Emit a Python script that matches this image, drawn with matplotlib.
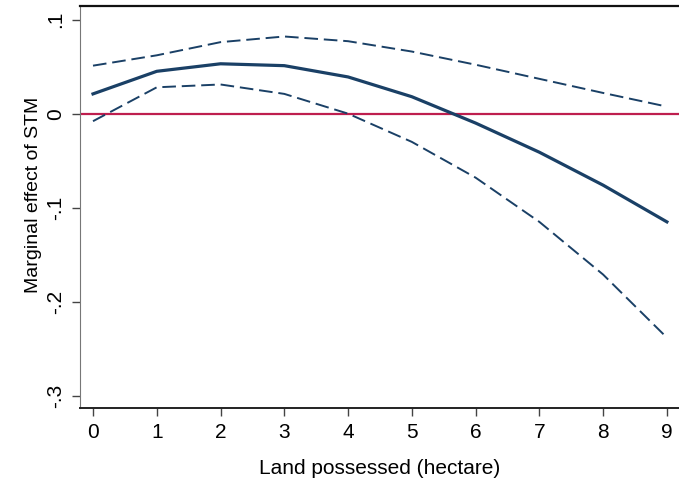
import matplotlib.pyplot as plt
import numpy as np

plt.rcParams['font.family'] = ['Liberation Sans', 'DejaVu Sans']

# land possessed (hectare)
land = [0, 1, 2, 3, 4, 5, 6, 7, 8, 9]
# marginal effect of STM and its confidence band
effect = [0.021, 0.045, 0.053, 0.051, 0.039, 0.018, -0.010, -0.041, -0.076, -0.115]
upper = [0.051, 0.062, 0.076, 0.082, 0.077, 0.066, 0.052, 0.037, 0.022, 0.0075]
lower = [-0.008, 0.028, 0.031, 0.021, 0.000, -0.030, -0.068, -0.115, -0.171, -0.238]

yticks = [0.1, 0, -0.1, -0.2, -0.3]
ylabels = ['.1', '0', '-.1', '-.2', '-.3']

navy = '#1a4066'

fig = plt.figure(figsize=(6.79, 4.86), dpi=100)
ax = fig.add_axes([80 / 679, 1 - 408 / 486, 1 - 80 / 679, 402 / 486])

ax.axhline(0, color='#be1e4e', lw=1.6, zorder=1)
ax.plot(land, upper, color=navy, lw=1.4, dashes=(7, 3))
ax.plot(land, lower, color=navy, lw=1.4, dashes=(7, 3))
ax.plot(land, effect, color=navy, lw=2.3)

ax.set_xlim(-0.204, 9.19)
ax.set_ylim(-0.3128, 0.1144)
ax.set_xticks(land)
ax.set_yticks(yticks)
ax.set_yticklabels(ylabels, rotation=90, va='center')
ax.tick_params(axis='both', labelsize=15, length=6, width=1, color='#444444')
ax.tick_params(axis='y', pad=5)
ax.tick_params(axis='x', pad=5)

ax.spines['right'].set_visible(False)
ax.spines['left'].set_color('#777777')
ax.spines['bottom'].set_color('#222222')
ax.spines['top'].set_color('#111111')
ax.spines['bottom'].set_linewidth(1.4)
ax.spines['top'].set_linewidth(1.6)

ax.set_xlabel('Land possessed (hectare)', fontsize=15, labelpad=12)
ax.set_ylabel('Marginal effect of STM', fontsize=14)
ax.yaxis.set_label_coords(-0.064, 0.53)

fig.savefig('out.png', dpi=100)
